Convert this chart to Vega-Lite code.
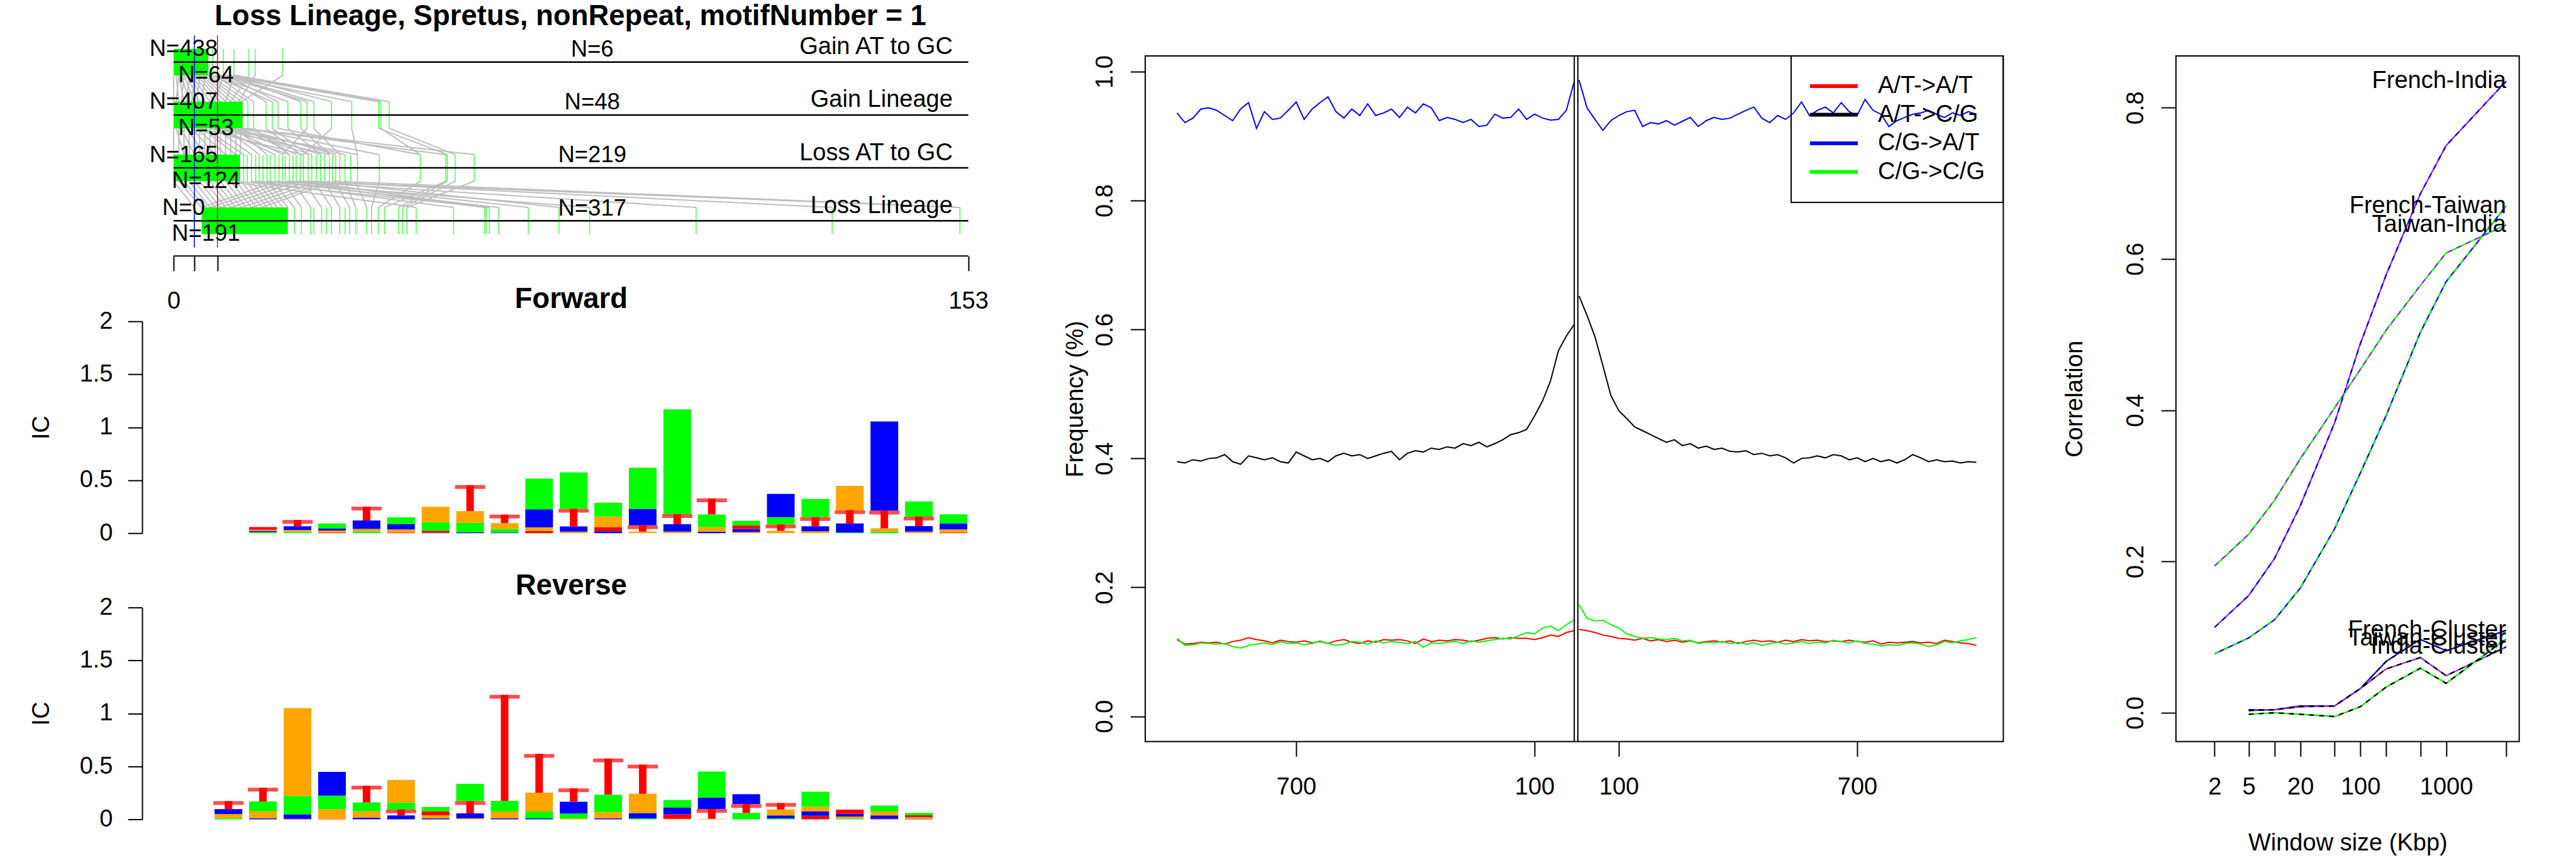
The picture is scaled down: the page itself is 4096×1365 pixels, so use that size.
{
"$schema": "https://vega.github.io/schema/vega-lite/v6.json",
"background": "white",
"padding": {"left": 47, "top": 3, "right": 5, "bottom": 2},
"config": {
  "font": "Liberation Sans",
  "view": {"stroke": null},
  "scale": {"continuousPadding": 0},
  "axis": {"grid": false, "labelFont": "Liberation Sans", "labelFontSize": 38, "labelColor": "black", "titleFont": "Liberation Sans", "titleFontSize": 38, "titleFontWeight": "normal", "titleColor": "black", "tickColor": "black", "tickWidth": 2, "domainColor": "black", "domainWidth": 2},
  "legend": {"strokeWidth": 2},
  "text": {"font": "Liberation Sans", "fontSize": 37, "color": "black"}
},
"datasets": {
  "lin": [
    {"lvl": 4, "cat": "Gain AT to GC", "top": "N=438", "bot": "N=64", "mid": "N=6"},
    {"lvl": 3, "cat": "Gain Lineage", "top": "N=407", "bot": "N=53", "mid": "N=48"},
    {"lvl": 2, "cat": "Loss AT to GC", "top": "N=165", "bot": "N=124", "mid": "N=219"},
    {"lvl": 1, "cat": "Loss Lineage", "top": "N=0", "bot": "N=191", "mid": "N=317"}
  ],
  "blocks": [{"l": 4, "a": 0, "b": 6.7}, {"l": 3, "a": 0, "b": 13.3}, {"l": 2, "a": 0, "b": 12.8}, {"l": 1, "a": 5.4, "b": 22.0}],
  "ticks": [
    {"l":4,"x":7.5},{"l":4,"x":9.6},{"l":4,"x":11.6},{"l":4,"x":14.5},{"l":4,"x":15.7},{"l":4,"x":21.0},
    {"l":3,"x":14.3},{"l":3,"x":15.4},{"l":3,"x":17.8},{"l":3,"x":19.0},{"l":3,"x":20.1},{"l":3,"x":22.0},{"l":3,"x":24.5},{"l":3,"x":25.7},{"l":3,"x":27.0},{"l":3,"x":30.4},{"l":3,"x":34.3},{"l":3,"x":39.5},{"l":3,"x":39.9},{"l":3,"x":41.5},
    {"l":2,"x":13.5},{"l":2,"x":14.2},{"l":2,"x":15.0},{"l":2,"x":15.8},{"l":2,"x":16.5},{"l":2,"x":17.2},{"l":2,"x":18.0},{"l":2,"x":18.6},{"l":2,"x":19.5},{"l":2,"x":20.3},{"l":2,"x":21.0},{"l":2,"x":21.5},{"l":2,"x":22.3},{"l":2,"x":23.0},{"l":2,"x":23.6},{"l":2,"x":24.4},{"l":2,"x":25.0},{"l":2,"x":25.9},{"l":2,"x":26.6},{"l":2,"x":27.5},{"l":2,"x":28.3},{"l":2,"x":29.1},{"l":2,"x":30.0},{"l":2,"x":30.6},{"l":2,"x":31.2},{"l":2,"x":32.0},{"l":2,"x":33.0},{"l":2,"x":34.1},{"l":2,"x":35.4},{"l":2,"x":39.6},{"l":2,"x":47.5},{"l":2,"x":52.4},{"l":2,"x":52.7},{"l":2,"x":54.2},{"l":2,"x":57.9},
    {"l":1,"x":4.0},{"l":1,"x":23.3},{"l":1,"x":24.6},{"l":1,"x":26.4},{"l":1,"x":27.0},{"l":1,"x":28.5},{"l":1,"x":29.4},{"l":1,"x":30.4},{"l":1,"x":32.0},{"l":1,"x":33.0},{"l":1,"x":33.9},{"l":1,"x":35.1},{"l":1,"x":37.2},{"l":1,"x":38.1},{"l":1,"x":39.4},{"l":1,"x":40.6},{"l":1,"x":43.3},{"l":1,"x":44.1},{"l":1,"x":44.9},{"l":1,"x":46.7},{"l":1,"x":53.9},{"l":1,"x":59.9},{"l":1,"x":60.2},{"l":1,"x":60.8},{"l":1,"x":62.6},{"l":1,"x":68.3},{"l":1,"x":74.2},{"l":1,"x":80.1},{"l":1,"x":100.6},{"l":1,"x":126.8},{"l":1,"x":151.4}
  ],
  "links": [
    {"l":4,"a":0,"b":0},{"l":4,"a":0.5,"b":1},{"l":4,"a":1,"b":2},{"l":4,"a":1.5,"b":3},{"l":4,"a":2,"b":4},{"l":4,"a":2.5,"b":5},{"l":4,"a":3,"b":6},{"l":4,"a":3.5,"b":7},{"l":4,"a":4,"b":8},{"l":4,"a":4.5,"b":9},{"l":4,"a":5,"b":10},{"l":4,"a":5.5,"b":11},{"l":4,"a":6,"b":12},{"l":4,"a":6.5,"b":13},{"l":4,"a":1,"b":0.5},{"l":4,"a":2,"b":1.5},{"l":4,"a":3,"b":2.5},{"l":4,"a":4,"b":3.5},{"l":4,"a":5,"b":4.5},{"l":4,"a":6,"b":5.5},
    {"l":4,"a":7,"b":14.3},{"l":4,"a":8,"b":15.4},{"l":4,"a":9,"b":17.8},{"l":4,"a":7.5,"b":19.0},{"l":4,"a":10,"b":20.1},{"l":4,"a":8,"b":22.0},{"l":4,"a":11,"b":24.5},{"l":4,"a":9,"b":25.7},{"l":4,"a":10,"b":27.0},{"l":4,"a":11,"b":30.4},{"l":4,"a":9,"b":34.3},{"l":4,"a":10,"b":39.5},{"l":4,"a":11.5,"b":39.9},{"l":4,"a":12,"b":41.5},{"l":4,"a":9.6,"b":8},{"l":4,"a":11.6,"b":10},{"l":4,"a":14.5,"b":11},{"l":4,"a":15.7,"b":12.5},{"l":4,"a":21.0,"b":13},
    {"l":3,"a":0,"b":0},{"l":3,"a":1,"b":1},{"l":3,"a":2,"b":2},{"l":3,"a":3,"b":3},{"l":3,"a":4,"b":4},{"l":3,"a":5,"b":5},{"l":3,"a":6,"b":6},{"l":3,"a":7,"b":7},{"l":3,"a":8,"b":8},{"l":3,"a":9,"b":9},{"l":3,"a":10,"b":10},{"l":3,"a":11,"b":11},{"l":3,"a":12,"b":12},{"l":3,"a":13,"b":12.8},{"l":3,"a":0.5,"b":2},{"l":3,"a":1.5,"b":4},{"l":3,"a":2.5,"b":6},{"l":3,"a":3.5,"b":8},{"l":3,"a":4.5,"b":10},{"l":3,"a":5.5,"b":12},
    {"l":3,"a":6,"b":13.5},{"l":3,"a":8,"b":15.0},{"l":3,"a":10,"b":16.5},{"l":3,"a":12,"b":18.0},{"l":3,"a":9,"b":19.5},{"l":3,"a":11,"b":21.0},{"l":3,"a":7,"b":22.3},{"l":3,"a":13,"b":23.6},{"l":3,"a":5,"b":25.0},{"l":3,"a":10,"b":26.6},{"l":3,"a":12,"b":28.3},{"l":3,"a":8,"b":30.0},{"l":3,"a":13.3,"b":31.2},{"l":3,"a":11,"b":33.0},{"l":3,"a":9,"b":35.4},{"l":3,"a":14.3,"b":39.6},{"l":3,"a":20.1,"b":47.5},{"l":3,"a":13.4,"b":52.4},{"l":3,"a":39.5,"b":52.7},{"l":3,"a":41.5,"b":54.2},{"l":3,"a":13.4,"b":57.9},{"l":3,"a":39.9,"b":47.5},{"l":3,"a":34.3,"b":35.4},{"l":3,"a":27.0,"b":32.0},{"l":3,"a":24.5,"b":30.0},{"l":3,"a":22.0,"b":28.3},{"l":3,"a":19.0,"b":25.9},{"l":3,"a":17.8,"b":24.4},{"l":3,"a":15.4,"b":22.3},{"l":3,"a":25.7,"b":21.0},{"l":3,"a":30.4,"b":25.0},
    {"l":2,"a":0,"b":4.0},{"l":2,"a":1,"b":5.4},{"l":2,"a":2,"b":6},{"l":2,"a":3,"b":7},{"l":2,"a":4,"b":8},{"l":2,"a":5,"b":9},{"l":2,"a":6,"b":10},{"l":2,"a":7,"b":11},{"l":2,"a":8,"b":12},{"l":2,"a":9,"b":13},{"l":2,"a":10,"b":14},{"l":2,"a":11,"b":15},{"l":2,"a":12,"b":16},{"l":2,"a":13,"b":17},{"l":2,"a":14,"b":18},{"l":2,"a":15,"b":19},{"l":2,"a":16,"b":20},{"l":2,"a":17,"b":21},{"l":2,"a":18,"b":22},{"l":2,"a":20,"b":5.4},{"l":2,"a":22,"b":7},{"l":2,"a":24,"b":9},{"l":2,"a":26,"b":11},{"l":2,"a":28,"b":13},{"l":2,"a":30,"b":15},{"l":2,"a":31,"b":17},
    {"l":2,"a":19,"b":23.3},{"l":2,"a":21,"b":24.6},{"l":2,"a":23,"b":26.4},{"l":2,"a":25,"b":28.5},{"l":2,"a":27,"b":30.4},{"l":2,"a":29,"b":32.0},{"l":2,"a":31,"b":33.9},{"l":2,"a":33,"b":35.1},{"l":2,"a":35,"b":37.2},{"l":2,"a":39.6,"b":38.1},{"l":2,"a":47.5,"b":39.4},{"l":2,"a":52.4,"b":40.6},{"l":2,"a":52.7,"b":43.3},{"l":2,"a":54.2,"b":44.1},{"l":2,"a":57.9,"b":44.9},{"l":2,"a":10,"b":46.7},{"l":2,"a":15,"b":53.9},{"l":2,"a":20,"b":59.9},{"l":2,"a":25,"b":60.2},{"l":2,"a":12,"b":60.8},{"l":2,"a":18,"b":62.6},{"l":2,"a":22,"b":68.3},{"l":2,"a":28,"b":74.2},{"l":2,"a":16,"b":80.1},{"l":2,"a":22,"b":100.6},{"l":2,"a":26,"b":126.8},{"l":2,"a":31,"b":151.4},{"l":2,"a":24,"b":151.4}
  ],
  "vlines": [{"x": 4.0, "m": "s"}, {"x": 8.44, "m": "e"}],
  "fwd": [
    {"col":1,"n":"A","h":0.010},{"col":1,"n":"G","h":0.012},{"col":1,"n":"C","h":0.011},{"col":1,"n":"T","h":0.025},
    {"col":2,"n":"A","h":0.010},{"col":2,"n":"G","h":0.020},{"col":2,"n":"C","h":0.035},{"col":2,"n":"T","h":0.060},
    {"col":3,"n":"T","h":0.005},{"col":3,"n":"G","h":0.020},{"col":3,"n":"C","h":0.021},{"col":3,"n":"A","h":0.045},
    {"col":4,"n":"A","h":0.015},{"col":4,"n":"G","h":0.025},{"col":4,"n":"C","h":0.080},{"col":4,"n":"T","h":0.130},
    {"col":5,"n":"T","h":0.005},{"col":5,"n":"G","h":0.030},{"col":5,"n":"C","h":0.050},{"col":5,"n":"A","h":0.065},
    {"col":6,"n":"C","h":0.004},{"col":6,"n":"T","h":0.020},{"col":6,"n":"A","h":0.080},{"col":6,"n":"G","h":0.145},
    {"col":7,"n":"C","h":0.008},{"col":7,"n":"A","h":0.090},{"col":7,"n":"G","h":0.110},{"col":7,"n":"T","h":0.245},
    {"col":8,"n":"C","h":0.005},{"col":8,"n":"A","h":0.035},{"col":8,"n":"G","h":0.055},{"col":8,"n":"T","h":0.080},
    {"col":9,"n":"T","h":0.020},{"col":9,"n":"G","h":0.035},{"col":9,"n":"C","h":0.170},{"col":9,"n":"A","h":0.290},
    {"col":10,"n":"G","h":0.014},{"col":10,"n":"C","h":0.050},{"col":10,"n":"T","h":0.165},{"col":10,"n":"A","h":0.345},
    {"col":11,"n":"C","h":0.017},{"col":11,"n":"T","h":0.040},{"col":11,"n":"G","h":0.100},{"col":11,"n":"A","h":0.130},
    {"col":12,"n":"G","h":0.014},{"col":12,"n":"T","h":0.060},{"col":12,"n":"C","h":0.155},{"col":12,"n":"A","h":0.390},
    {"col":13,"n":"G","h":0.014},{"col":13,"n":"C","h":0.070},{"col":13,"n":"T","h":0.095},{"col":13,"n":"A","h":0.990},
    {"col":14,"n":"C","h":0.014},{"col":14,"n":"G","h":0.043},{"col":14,"n":"A","h":0.120},{"col":14,"n":"T","h":0.150},
    {"col":15,"n":"G","h":0.010},{"col":15,"n":"C","h":0.030},{"col":15,"n":"T","h":0.034},{"col":15,"n":"A","h":0.043},
    {"col":16,"n":"G","h":0.022},{"col":16,"n":"T","h":0.060},{"col":16,"n":"A","h":0.069},{"col":16,"n":"C","h":0.220},
    {"col":17,"n":"G","h":0.017},{"col":17,"n":"C","h":0.048},{"col":17,"n":"T","h":0.086},{"col":17,"n":"A","h":0.172},
    {"col":18,"n":"A","h":0.005},{"col":18,"n":"C","h":0.086},{"col":18,"n":"T","h":0.126},{"col":18,"n":"G","h":0.230},
    {"col":19,"n":"A","h":0.014},{"col":19,"n":"G","h":0.031},{"col":19,"n":"T","h":0.167},{"col":19,"n":"C","h":0.843},
    {"col":20,"n":"G","h":0.014},{"col":20,"n":"C","h":0.052},{"col":20,"n":"T","h":0.090},{"col":20,"n":"A","h":0.143},
    {"col":21,"n":"T","h":0.005},{"col":21,"n":"G","h":0.030},{"col":21,"n":"C","h":0.057},{"col":21,"n":"A","h":0.086}
  ],
  "rev": [
    {"col":1,"n":"A","h":0.010},{"col":1,"n":"G","h":0.040},{"col":1,"n":"C","h":0.046},{"col":1,"n":"T","h":0.076},
    {"col":2,"n":"C","h":0.010},{"col":2,"n":"G","h":0.065},{"col":2,"n":"A","h":0.093},{"col":2,"n":"T","h":0.130},
    {"col":3,"n":"T","h":0.004},{"col":3,"n":"C","h":0.043},{"col":3,"n":"A","h":0.173},{"col":3,"n":"G","h":0.830},
    {"col":4,"n":"T","h":0.004},{"col":4,"n":"G","h":0.090},{"col":4,"n":"A","h":0.130},{"col":4,"n":"C","h":0.223},
    {"col":5,"n":"C","h":0.015},{"col":5,"n":"G","h":0.060},{"col":5,"n":"A","h":0.084},{"col":5,"n":"T","h":0.158},
    {"col":6,"n":"C","h":0.037},{"col":6,"n":"T","h":0.056},{"col":6,"n":"A","h":0.065},{"col":6,"n":"G","h":0.214},
    {"col":7,"n":"C","h":0.010},{"col":7,"n":"G","h":0.028},{"col":7,"n":"T","h":0.037},{"col":7,"n":"A","h":0.041},
    {"col":8,"n":"G","h":0.010},{"col":8,"n":"C","h":0.046},{"col":8,"n":"T","h":0.115},{"col":8,"n":"A","h":0.164},
    {"col":9,"n":"C","h":0.009},{"col":9,"n":"G","h":0.065},{"col":9,"n":"A","h":0.100},{"col":9,"n":"T","h":1.000},
    {"col":10,"n":"C","h":0.009},{"col":10,"n":"A","h":0.065},{"col":10,"n":"G","h":0.177},{"col":10,"n":"T","h":0.366},
    {"col":11,"n":"G","h":0.009},{"col":11,"n":"A","h":0.046},{"col":11,"n":"C","h":0.110},{"col":11,"n":"T","h":0.127},
    {"col":12,"n":"C","h":0.010},{"col":12,"n":"G","h":0.056},{"col":12,"n":"A","h":0.167},{"col":12,"n":"T","h":0.340},
    {"col":13,"n":"A","h":0.009},{"col":13,"n":"C","h":0.050},{"col":13,"n":"G","h":0.182},{"col":13,"n":"T","h":0.275},
    {"col":14,"n":"G","h":0.004},{"col":14,"n":"T","h":0.043},{"col":14,"n":"C","h":0.065},{"col":14,"n":"A","h":0.070},
    {"col":15,"n":"G","h":0.004},{"col":15,"n":"T","h":0.093},{"col":15,"n":"C","h":0.108},{"col":15,"n":"A","h":0.245},
    {"col":16,"n":"A","h":0.060},{"col":16,"n":"T","h":0.084},{"col":16,"n":"C","h":0.093},
    {"col":17,"n":"A","h":0.009},{"col":17,"n":"C","h":0.028},{"col":17,"n":"G","h":0.056},{"col":17,"n":"T","h":0.060},
    {"col":18,"n":"T","h":0.033},{"col":18,"n":"C","h":0.041},{"col":18,"n":"G","h":0.046},{"col":18,"n":"A","h":0.140},
    {"col":19,"n":"A","h":0.007},{"col":19,"n":"G","h":0.019},{"col":19,"n":"C","h":0.026},{"col":19,"n":"T","h":0.040},
    {"col":20,"n":"T","h":0.004},{"col":20,"n":"C","h":0.033},{"col":20,"n":"G","h":0.037},{"col":20,"n":"A","h":0.056},
    {"col":21,"n":"C","h":0.004},{"col":21,"n":"G","h":0.015},{"col":21,"n":"T","h":0.019},{"col":21,"n":"A","h":0.022}
  ],
  "mid": [
    {"s":"L","x":-1000,"at":0.119,"ac":0.395,"ca":0.936,"cc":0.121},
    {"s":"L","x":-980,"at":0.112,"ac":0.393,"ca":0.921,"cc":0.110},
    {"s":"L","x":-960,"at":0.113,"ac":0.398,"ca":0.928,"cc":0.111},
    {"s":"L","x":-940,"at":0.115,"ac":0.396,"ca":0.942,"cc":0.114},
    {"s":"L","x":-920,"at":0.114,"ac":0.400,"ca":0.944,"cc":0.113},
    {"s":"L","x":-900,"at":0.115,"ac":0.401,"ca":0.940,"cc":0.112},
    {"s":"L","x":-880,"at":0.112,"ac":0.406,"ca":0.932,"cc":0.113},
    {"s":"L","x":-860,"at":0.116,"ac":0.395,"ca":0.924,"cc":0.108},
    {"s":"L","x":-840,"at":0.118,"ac":0.391,"ca":0.942,"cc":0.106},
    {"s":"L","x":-820,"at":0.122,"ac":0.404,"ca":0.952,"cc":0.110},
    {"s":"L","x":-800,"at":0.119,"ac":0.401,"ca":0.912,"cc":0.112},
    {"s":"L","x":-780,"at":0.117,"ac":0.398,"ca":0.938,"cc":0.114},
    {"s":"L","x":-760,"at":0.114,"ac":0.401,"ca":0.926,"cc":0.111},
    {"s":"L","x":-740,"at":0.118,"ac":0.395,"ca":0.928,"cc":0.116},
    {"s":"L","x":-720,"at":0.116,"ac":0.393,"ca":0.940,"cc":0.113},
    {"s":"L","x":-700,"at":0.115,"ac":0.410,"ca":0.953,"cc":0.114},
    {"s":"L","x":-680,"at":0.117,"ac":0.404,"ca":0.926,"cc":0.111},
    {"s":"L","x":-660,"at":0.114,"ac":0.398,"ca":0.942,"cc":0.113},
    {"s":"L","x":-640,"at":0.116,"ac":0.400,"ca":0.952,"cc":0.117},
    {"s":"L","x":-620,"at":0.113,"ac":0.395,"ca":0.961,"cc":0.113},
    {"s":"L","x":-600,"at":0.117,"ac":0.404,"ca":0.938,"cc":0.110},
    {"s":"L","x":-580,"at":0.119,"ac":0.408,"ca":0.928,"cc":0.112},
    {"s":"L","x":-560,"at":0.115,"ac":0.404,"ca":0.942,"cc":0.116},
    {"s":"L","x":-540,"at":0.113,"ac":0.406,"ca":0.932,"cc":0.115},
    {"s":"L","x":-520,"at":0.117,"ac":0.400,"ca":0.950,"cc":0.112},
    {"s":"L","x":-500,"at":0.115,"ac":0.404,"ca":0.932,"cc":0.117},
    {"s":"L","x":-480,"at":0.119,"ac":0.408,"ca":0.936,"cc":0.114},
    {"s":"L","x":-460,"at":0.118,"ac":0.411,"ca":0.942,"cc":0.116},
    {"s":"L","x":-440,"at":0.119,"ac":0.398,"ca":0.929,"cc":0.115},
    {"s":"L","x":-420,"at":0.117,"ac":0.408,"ca":0.945,"cc":0.113},
    {"s":"L","x":-400,"at":0.113,"ac":0.412,"ca":0.936,"cc":0.116},
    {"s":"L","x":-380,"at":0.120,"ac":0.410,"ca":0.950,"cc":0.107},
    {"s":"L","x":-360,"at":0.116,"ac":0.416,"ca":0.944,"cc":0.114},
    {"s":"L","x":-340,"at":0.118,"ac":0.414,"ca":0.924,"cc":0.113},
    {"s":"L","x":-320,"at":0.117,"ac":0.418,"ca":0.929,"cc":0.115},
    {"s":"L","x":-300,"at":0.119,"ac":0.416,"ca":0.926,"cc":0.116},
    {"s":"L","x":-280,"at":0.118,"ac":0.423,"ca":0.921,"cc":0.113},
    {"s":"L","x":-260,"at":0.116,"ac":0.420,"ca":0.926,"cc":0.117},
    {"s":"L","x":-240,"at":0.118,"ac":0.425,"ca":0.915,"cc":0.115},
    {"s":"L","x":-220,"at":0.121,"ac":0.418,"ca":0.917,"cc":0.117},
    {"s":"L","x":-200,"at":0.122,"ac":0.423,"ca":0.934,"cc":0.119},
    {"s":"L","x":-180,"at":0.120,"ac":0.429,"ca":0.928,"cc":0.121},
    {"s":"L","x":-160,"at":0.122,"ac":0.437,"ca":0.929,"cc":0.120},
    {"s":"L","x":-140,"at":0.121,"ac":0.440,"ca":0.942,"cc":0.125},
    {"s":"L","x":-120,"at":0.121,"ac":0.445,"ca":0.926,"cc":0.130},
    {"s":"L","x":-100,"at":0.119,"ac":0.466,"ca":0.934,"cc":0.128},
    {"s":"L","x":-80,"at":0.122,"ac":0.489,"ca":0.928,"cc":0.137},
    {"s":"L","x":-60,"at":0.126,"ac":0.520,"ca":0.925,"cc":0.140},
    {"s":"L","x":-40,"at":0.124,"ac":0.567,"ca":0.926,"cc":0.133},
    {"s":"L","x":-20,"at":0.130,"ac":0.590,"ca":0.940,"cc":0.142},
    {"s":"L","x":0,"at":0.133,"ac":0.608,"ca":0.985,"cc":0.150},
    {"s":"R","x":12,"at":0.135,"ac":0.652,"ca":0.987,"cc":0.173},
    {"s":"R","x":32,"at":0.133,"ac":0.622,"ca":0.944,"cc":0.152},
    {"s":"R","x":52,"at":0.130,"ac":0.589,"ca":0.926,"cc":0.148},
    {"s":"R","x":72,"at":0.126,"ac":0.544,"ca":0.909,"cc":0.149},
    {"s":"R","x":92,"at":0.124,"ac":0.498,"ca":0.924,"cc":0.142},
    {"s":"R","x":112,"at":0.121,"ac":0.474,"ca":0.932,"cc":0.137},
    {"s":"R","x":132,"at":0.120,"ac":0.462,"ca":0.938,"cc":0.128},
    {"s":"R","x":152,"at":0.118,"ac":0.449,"ca":0.940,"cc":0.124},
    {"s":"R","x":172,"at":0.121,"ac":0.443,"ca":0.915,"cc":0.121},
    {"s":"R","x":192,"at":0.117,"ac":0.437,"ca":0.921,"cc":0.122},
    {"s":"R","x":212,"at":0.119,"ac":0.431,"ca":0.919,"cc":0.120},
    {"s":"R","x":232,"at":0.116,"ac":0.425,"ca":0.924,"cc":0.119},
    {"s":"R","x":252,"at":0.118,"ac":0.429,"ca":0.917,"cc":0.121},
    {"s":"R","x":272,"at":0.115,"ac":0.420,"ca":0.923,"cc":0.117},
    {"s":"R","x":292,"at":0.117,"ac":0.423,"ca":0.929,"cc":0.118},
    {"s":"R","x":312,"at":0.114,"ac":0.416,"ca":0.915,"cc":0.113},
    {"s":"R","x":332,"at":0.116,"ac":0.419,"ca":0.924,"cc":0.115},
    {"s":"R","x":352,"at":0.117,"ac":0.414,"ca":0.929,"cc":0.114},
    {"s":"R","x":372,"at":0.115,"ac":0.416,"ca":0.926,"cc":0.116},
    {"s":"R","x":392,"at":0.117,"ac":0.411,"ca":0.928,"cc":0.113},
    {"s":"R","x":412,"at":0.113,"ac":0.410,"ca":0.934,"cc":0.115},
    {"s":"R","x":432,"at":0.116,"ac":0.412,"ca":0.940,"cc":0.112},
    {"s":"R","x":452,"at":0.118,"ac":0.406,"ca":0.945,"cc":0.114},
    {"s":"R","x":472,"at":0.116,"ac":0.408,"ca":0.928,"cc":0.110},
    {"s":"R","x":492,"at":0.117,"ac":0.404,"ca":0.921,"cc":0.113},
    {"s":"R","x":512,"at":0.115,"ac":0.406,"ca":0.932,"cc":0.115},
    {"s":"R","x":532,"at":0.118,"ac":0.401,"ca":0.926,"cc":0.112},
    {"s":"R","x":552,"at":0.116,"ac":0.393,"ca":0.936,"cc":0.114},
    {"s":"R","x":572,"at":0.119,"ac":0.400,"ca":0.953,"cc":0.116},
    {"s":"R","x":592,"at":0.117,"ac":0.401,"ca":0.932,"cc":0.113},
    {"s":"R","x":612,"at":0.118,"ac":0.404,"ca":0.940,"cc":0.115},
    {"s":"R","x":632,"at":0.116,"ac":0.401,"ca":0.945,"cc":0.114},
    {"s":"R","x":652,"at":0.117,"ac":0.406,"ca":0.936,"cc":0.118},
    {"s":"R","x":672,"at":0.116,"ac":0.404,"ca":0.952,"cc":0.116},
    {"s":"R","x":692,"at":0.118,"ac":0.398,"ca":0.938,"cc":0.114},
    {"s":"R","x":712,"at":0.116,"ac":0.401,"ca":0.932,"cc":0.117},
    {"s":"R","x":732,"at":0.115,"ac":0.395,"ca":0.957,"cc":0.113},
    {"s":"R","x":752,"at":0.117,"ac":0.400,"ca":0.940,"cc":0.112},
    {"s":"R","x":772,"at":0.112,"ac":0.395,"ca":0.934,"cc":0.109},
    {"s":"R","x":792,"at":0.115,"ac":0.398,"ca":0.915,"cc":0.111},
    {"s":"R","x":812,"at":0.114,"ac":0.393,"ca":0.924,"cc":0.110},
    {"s":"R","x":832,"at":0.115,"ac":0.398,"ca":0.929,"cc":0.113},
    {"s":"R","x":852,"at":0.116,"ac":0.406,"ca":0.934,"cc":0.114},
    {"s":"R","x":872,"at":0.114,"ac":0.401,"ca":0.936,"cc":0.112},
    {"s":"R","x":892,"at":0.115,"ac":0.395,"ca":0.940,"cc":0.108},
    {"s":"R","x":912,"at":0.113,"ac":0.398,"ca":0.934,"cc":0.111},
    {"s":"R","x":932,"at":0.118,"ac":0.395,"ca":0.929,"cc":0.116},
    {"s":"R","x":952,"at":0.116,"ac":0.396,"ca":0.936,"cc":0.114},
    {"s":"R","x":972,"at":0.114,"ac":0.393,"ca":0.932,"cc":0.117},
    {"s":"R","x":992,"at":0.113,"ac":0.395,"ca":0.938,"cc":0.119},
    {"s":"R","x":1012,"at":0.110,"ac":0.394,"ca":0.934,"cc":0.122}
  ],
  "clines": [{"v": 0}, {"v": 9}],
  "corr": [
    {"p":"French-India","w":2,"r":0.113},{"p":"French-India","w":5,"r":0.155},{"p":"French-India","w":10,"r":0.204},{"p":"French-India","w":20,"r":0.274},{"p":"French-India","w":50,"r":0.383},{"p":"French-India","w":100,"r":0.488},{"p":"French-India","w":200,"r":0.579},{"p":"French-India","w":500,"r":0.686},{"p":"French-India","w":1000,"r":0.750},{"p":"French-India","w":5000,"r":0.835},
    {"p":"Taiwan-India","w":2,"r":0.194},{"p":"Taiwan-India","w":5,"r":0.236},{"p":"Taiwan-India","w":10,"r":0.281},{"p":"Taiwan-India","w":20,"r":0.336},{"p":"Taiwan-India","w":50,"r":0.403},{"p":"Taiwan-India","w":100,"r":0.454},{"p":"Taiwan-India","w":200,"r":0.506},{"p":"Taiwan-India","w":500,"r":0.565},{"p":"Taiwan-India","w":1000,"r":0.608},{"p":"Taiwan-India","w":5000,"r":0.645},
    {"p":"French-Taiwan","w":2,"r":0.078},{"p":"French-Taiwan","w":5,"r":0.099},{"p":"French-Taiwan","w":10,"r":0.123},{"p":"French-Taiwan","w":20,"r":0.165},{"p":"French-Taiwan","w":50,"r":0.243},{"p":"French-Taiwan","w":100,"r":0.317},{"p":"French-Taiwan","w":200,"r":0.393},{"p":"French-Taiwan","w":500,"r":0.503},{"p":"French-Taiwan","w":1000,"r":0.570},{"p":"French-Taiwan","w":5000,"r":0.670},
    {"p":"French-Cluster","w":5,"r":0.003},{"p":"French-Cluster","w":10,"r":0.004},{"p":"French-Cluster","w":20,"r":0.009},{"p":"French-Cluster","w":50,"r":0.009},{"p":"French-Cluster","w":100,"r":0.032},{"p":"French-Cluster","w":200,"r":0.068},{"p":"French-Cluster","w":500,"r":0.097},{"p":"French-Cluster","w":1000,"r":0.082},{"p":"French-Cluster","w":5000,"r":0.109},
    {"p":"India-Cluster","w":5,"r":0.004},{"p":"India-Cluster","w":10,"r":0.004},{"p":"India-Cluster","w":20,"r":0.008},{"p":"India-Cluster","w":50,"r":0.009},{"p":"India-Cluster","w":100,"r":0.032},{"p":"India-Cluster","w":200,"r":0.058},{"p":"India-Cluster","w":500,"r":0.073},{"p":"India-Cluster","w":1000,"r":0.049},{"p":"India-Cluster","w":5000,"r":0.087},
    {"p":"Taiwan-Cluster","w":5,"r":-0.002},{"p":"Taiwan-Cluster","w":10,"r":0.000},{"p":"Taiwan-Cluster","w":20,"r":-0.002},{"p":"Taiwan-Cluster","w":50,"r":-0.005},{"p":"Taiwan-Cluster","w":100,"r":0.008},{"p":"Taiwan-Cluster","w":200,"r":0.034},{"p":"Taiwan-Cluster","w":500,"r":0.059},{"p":"Taiwan-Cluster","w":1000,"r":0.039},{"p":"Taiwan-Cluster","w":5000,"r":0.098}
  ]
},
"bounds": "full",
"spacing": 118,
"resolve": {"scale": {"color": "independent", "x": "independent", "y": "independent"}},
"hconcat": [
  {
    "bounds": "flush",
    "spacing": 118.2,
    "resolve": {"scale": {"color": "independent", "x": "independent", "y": "independent"}},
    "vconcat": [
      {
        "width": 1317.4, "height": 304,
        "layer": [
          {"data": {"name": "links"}, "mark": {"type": "rule", "color": "#BEBEBE", "strokeWidth": 2, "yOffset": 21.2, "y2Offset": 62.94},
           "encoding": {
             "x": {"field": "a", "type": "quantitative", "scale": {"domain": [-6.06, 153.46], "nice": false, "zero": false, "padding": 0},
                   "axis": {"values": [0, 4, 8.44, 153], "labelExpr": "datum.value == 0 || datum.value == 153 ? format(datum.value, 'd') : ''", "domain": false, "tickSize": 23.5, "offset": 14.4, "labelPadding": 30, "title": null, "labelFlush": false, "labelOverlap": false}},
             "x2": {"field": "b"},
             "y": {"field": "l", "type": "quantitative", "scale": {"domain": [0.5036, 4.117], "nice": false, "zero": false, "padding": 0}, "axis": null},
             "y2": {"field": "l"}}},
          {"data": {"name": "blocks"}, "mark": {"type": "bar", "orient": "horizontal", "size": 42.4, "color": "#00FF00"},
           "encoding": {"x": {"field": "a", "type": "quantitative"}, "x2": {"field": "b"}, "y": {"field": "l", "type": "quantitative", "axis": null}}},
          {"data": {"name": "ticks"}, "mark": {"type": "tick", "orient": "vertical", "size": 42.4, "thickness": 1.5, "color": "#00FF00"},
           "encoding": {"x": {"field": "x", "type": "quantitative"}, "y": {"field": "l", "type": "quantitative", "axis": null}}},
          {"data": {"name": "lin"}, "mark": {"type": "rule", "color": "black", "strokeWidth": 2.5},
           "encoding": {"x": {"datum": 0, "type": "quantitative"}, "x2": {"datum": 153}, "y": {"field": "lvl", "type": "quantitative", "axis": null}}},
          {"data": {"name": "vlines"}, "mark": {"type": "rule", "strokeWidth": 1.5},
           "encoding": {"x": {"field": "x", "type": "quantitative"}, "y": {"datum": 4.505, "type": "quantitative", "axis": null}, "y2": {"datum": 0.495},
                        "color": {"field": "m", "type": "nominal", "scale": {"domain": ["s", "e"], "range": ["#0000FF", "#FF0000"]}, "legend": null}}},
          {"data": {"values": [{}]}, "mark": {"type": "rule", "color": "black", "strokeWidth": 2},
           "encoding": {"x": {"datum": 0, "type": "quantitative"}, "x2": {"datum": 153}, "y": {"datum": 0.333, "type": "quantitative", "axis": null}}},
          {"data": {"values": [{}]}, "mark": {"type": "text", "fontSize": 45.5, "fontWeight": "bold", "align": "center", "baseline": "alphabetic"},
           "encoding": {"x": {"datum": 76.4, "type": "quantitative"}, "y": {"datum": 4.703, "type": "quantitative", "axis": null}, "text": {"value": "Loss Lineage, Spretus, nonRepeat, motifNumber = 1"}}},
          {"data": {"name": "lin"}, "mark": {"type": "text", "fontSize": 38, "align": "right", "baseline": "middle", "dy": -23.5},
           "encoding": {"x": {"datum": 150, "type": "quantitative"}, "y": {"field": "lvl", "type": "quantitative", "axis": null}, "text": {"field": "cat"}}},
          {"data": {"name": "lin"}, "mark": {"type": "text", "fontSize": 36.5, "align": "center", "baseline": "middle", "dy": -19.7},
           "encoding": {"x": {"datum": 80.6, "type": "quantitative"}, "y": {"field": "lvl", "type": "quantitative", "axis": null}, "text": {"field": "mid"}}},
          {"data": {"name": "lin"}, "mark": {"type": "text", "fontSize": 36.5, "align": "center", "baseline": "middle", "dy": -20.5},
           "encoding": {"x": {"datum": 1.93, "type": "quantitative"}, "y": {"field": "lvl", "type": "quantitative", "axis": null}, "text": {"field": "top"}}},
          {"data": {"name": "lin"}, "mark": {"type": "text", "fontSize": 36.5, "align": "center", "baseline": "middle", "dy": 21},
           "encoding": {"x": {"datum": 6.24, "type": "quantitative"}, "y": {"field": "lvl", "type": "quantitative", "axis": null}, "text": {"field": "bot"}}}
        ]
      },
      {
        "width": 1317.4, "height": 337,
        "layer": [
          {"data": {"name": "fwd"},
           "transform": [{"stack": "h", "groupby": ["col"], "sort": [{"field": "h", "order": "ascending"}], "as": ["y0", "y1"]}, {"filter": "datum.n != 'T' || datum.h <= 0.05"}],
           "mark": {"type": "bar", "size": 44},
           "encoding": {
             "x": {"field": "col", "type": "quantitative", "scale": {"domain": [-2.5, 21.5], "nice": false, "zero": false, "padding": 0}, "axis": null},
             "y": {"field": "y0", "type": "quantitative", "scale": {"domain": [0, 2], "nice": false, "zero": false},
                   "axis": {"values": [0, 0.5, 1, 1.5, 2], "format": "~g", "tickSize": 22.7, "labelPadding": 24.3, "labelAngle": 0, "labelAlign": "right", "labelBaseline": "middle", "title": "IC", "titleX": -160, "titleY": 168.5, "titleAngle": 270, "titleAlign": "center", "titleBaseline": "middle"}},
             "y2": {"field": "y1"},
             "color": {"field": "n", "type": "nominal", "scale": {"domain": ["A", "C", "G", "T"], "range": ["#00FF00", "#0000FF", "#FFA500", "#FF0000"]}, "legend": null}}},
          {"data": {"name": "fwd"},
           "transform": [{"stack": "h", "groupby": ["col"], "sort": [{"field": "h", "order": "ascending"}], "as": ["y0", "y1"]}, {"filter": "datum.n == 'T' && datum.h > 0.05"}],
           "mark": {"type": "bar", "size": 12, "color": "#FF0000"},
           "encoding": {"x": {"field": "col", "type": "quantitative", "axis": null}, "y": {"field": "y0", "type": "quantitative"}, "y2": {"field": "y1"}}},
          {"data": {"name": "fwd"},
           "transform": [{"stack": "h", "groupby": ["col"], "sort": [{"field": "h", "order": "ascending"}], "as": ["y0", "y1"]}, {"filter": "datum.n == 'T' && datum.h > 0.05"}],
           "mark": {"type": "tick", "orient": "horizontal", "size": 48, "thickness": 6, "yOffset": 3, "color": "#FF0000"},
           "encoding": {"x": {"field": "col", "type": "quantitative", "axis": null}, "y": {"field": "y1", "type": "quantitative"}}},
          {"data": {"values": [{}]}, "mark": {"type": "text", "fontSize": 45.5, "fontWeight": "bold", "align": "center", "baseline": "middle", "dy": -34.9},
           "encoding": {"x": {"datum": 9.93, "type": "quantitative", "axis": null}, "y": {"datum": 2, "type": "quantitative"}, "text": {"value": "Forward"}}}
        ]
      },
      {
        "width": 1317.4, "height": 337,
        "layer": [
          {"data": {"name": "rev"},
           "transform": [{"stack": "h", "groupby": ["col"], "sort": [{"field": "h", "order": "ascending"}], "as": ["y0", "y1"]}, {"filter": "datum.n != 'T' || datum.h <= 0.05"}],
           "mark": {"type": "bar", "size": 44},
           "encoding": {
             "x": {"field": "col", "type": "quantitative", "scale": {"domain": [-1.5, 22.5], "nice": false, "zero": false, "padding": 0}, "axis": null},
             "y": {"field": "y0", "type": "quantitative", "scale": {"domain": [0, 2], "nice": false, "zero": false},
                   "axis": {"values": [0, 0.5, 1, 1.5, 2], "format": "~g", "tickSize": 22.7, "labelPadding": 24.3, "labelAngle": 0, "labelAlign": "right", "labelBaseline": "middle", "title": "IC", "titleX": -160, "titleY": 168.5, "titleAngle": 270, "titleAlign": "center", "titleBaseline": "middle"}},
             "y2": {"field": "y1"},
             "color": {"field": "n", "type": "nominal", "scale": {"domain": ["A", "C", "G", "T"], "range": ["#00FF00", "#0000FF", "#FFA500", "#FF0000"]}, "legend": null}}},
          {"data": {"name": "rev"},
           "transform": [{"stack": "h", "groupby": ["col"], "sort": [{"field": "h", "order": "ascending"}], "as": ["y0", "y1"]}, {"filter": "datum.n == 'T' && datum.h > 0.05"}],
           "mark": {"type": "bar", "size": 12, "color": "#FF0000"},
           "encoding": {"x": {"field": "col", "type": "quantitative", "axis": null}, "y": {"field": "y0", "type": "quantitative"}, "y2": {"field": "y1"}}},
          {"data": {"name": "rev"},
           "transform": [{"stack": "h", "groupby": ["col"], "sort": [{"field": "h", "order": "ascending"}], "as": ["y0", "y1"]}, {"filter": "datum.n == 'T' && datum.h > 0.05"}],
           "mark": {"type": "tick", "orient": "horizontal", "size": 48, "thickness": 6, "yOffset": 3, "color": "#FF0000"},
           "encoding": {"x": {"field": "col", "type": "quantitative", "axis": null}, "y": {"field": "y1", "type": "quantitative"}}},
          {"data": {"values": [{}]}, "mark": {"type": "text", "fontSize": 45.5, "fontWeight": "bold", "align": "center", "baseline": "middle", "dy": -34.9},
           "encoding": {"x": {"datum": 10.93, "type": "quantitative", "axis": null}, "y": {"datum": 2, "type": "quantitative"}, "text": {"value": "Reverse"}}}
        ]
      }
    ]
  },
  {
    "bounds": "full",
    "spacing": 92.9,
    "resolve": {"scale": {"color": "independent", "x": "independent", "y": "independent"}},
    "hconcat": [
      {
        "width": 1364.4, "height": 1090.8,
        "view": {"stroke": "black", "strokeWidth": 2},
        "layer": [
          {"data": {"name": "mid"},
           "transform": [{"fold": ["at", "ac", "ca", "cc"], "as": ["t", "v"]}],
           "mark": {"type": "line"},
           "encoding": {
             "x": {"field": "x", "type": "quantitative", "scale": {"domain": [-1080, 1080], "nice": false, "zero": false},
                   "axis": {"values": [-700, -100, 112, 712], "labelExpr": "datum.value < 0 ? format(-datum.value, 'd') : format(datum.value - 12, 'd')", "domain": false, "tickSize": 23.5, "labelPadding": 30, "title": null, "labelFlush": false, "labelOverlap": false}},
             "y": {"field": "v", "type": "quantitative", "scale": {"domain": [-0.0392, 1.0244], "nice": false, "zero": false},
                   "axis": {"values": [0, 0.2, 0.4, 0.6, 0.8, 1], "format": ".1f", "domain": false, "tickSize": 23.5, "labelAngle": -90, "labelAlign": "center", "labelBaseline": "alphabetic", "labelPadding": 29, "title": "Frequency (%)", "titleX": -110.7, "titleY": 545.4, "titleAngle": 270, "titleAlign": "center", "titleBaseline": "middle"}},
             "color": {"field": "t", "type": "nominal", "scale": {"domain": ["at", "ac", "ca", "cc"], "range": ["#FF0000", "#000000", "#0000FF", "#00FF00"]},
                       "legend": {"orient": "top-right", "offset": 0, "padding": 29, "title": null, "strokeColor": "black", "symbolType": "M-4,0L4,0", "symbolSize": 361, "symbolStrokeWidth": 6, "symbolOffset": 20, "labelOffset": 51, "labelFontSize": 38, "labelFont": "Liberation Sans", "labelColor": "black", "labelLimit": 0, "rowPadding": 7.5,
                                  "labelExpr": "datum.label == 'at' ? 'A/T->A/T' : datum.label == 'ac' ? 'A/T->C/G' : datum.label == 'ca' ? 'C/G->A/T' : 'C/G->C/G'"}},
             "detail": {"field": "s"}}},
          {"data": {"name": "clines"}, "mark": {"type": "rule", "color": "black", "strokeWidth": 2},
           "encoding": {"x": {"field": "v", "type": "quantitative"}}}
        ]
      },
      {
        "width": 545.8, "height": 1090.8,
        "view": {"stroke": "black", "strokeWidth": 2},
        "data": {"name": "corr"},
        "resolve": {"scale": {"color": "independent"}},
        "layer": [
          {"mark": {"type": "line", "strokeWidth": 2.3},
           "encoding": {
             "x": {"field": "w", "type": "quantitative", "scale": {"type": "log", "domain": [0.71, 7100], "nice": false},
                   "axis": {"values": [2, 5, 10, 20, 50, 100, 200, 500, 1000, 5000], "labelExpr": "datum.value == 2 || datum.value == 5 || datum.value == 20 || datum.value == 100 || datum.value == 1000 ? format(datum.value, 'd') : ''", "domain": false, "tickSize": 23.5, "labelPadding": 30, "labelFlush": false, "labelOverlap": false, "title": "Window size (Kbp)", "titleX": 272.9, "titleY": 161.5, "titleAlign": "center", "titleBaseline": "middle"}},
             "y": {"field": "r", "type": "quantitative", "scale": {"domain": [-0.0381, 0.8684], "nice": false, "zero": false},
                   "axis": {"values": [0, 0.2, 0.4, 0.6, 0.8], "format": ".1f", "domain": false, "tickSize": 23.5, "labelAngle": -90, "labelAlign": "center", "labelBaseline": "alphabetic", "labelPadding": 29, "title": "Correlation", "titleX": -160, "titleY": 545.4, "titleAngle": 270, "titleAlign": "center", "titleBaseline": "middle"}},
             "color": {"field": "p", "type": "nominal", "scale": {"domain": ["French-India", "Taiwan-India", "French-Taiwan", "French-Cluster", "India-Cluster", "Taiwan-Cluster"], "range": ["#A020F0", "#00FF00", "#0000FF", "#0000FF", "#A020F0", "#00FF00"]}, "legend": null}}},
          {"mark": {"type": "line", "strokeWidth": 2.3, "strokeDash": [8, 8]},
           "encoding": {
             "x": {"field": "w", "type": "quantitative"},
             "y": {"field": "r", "type": "quantitative"},
             "color": {"field": "p", "type": "nominal", "scale": {"domain": ["French-India", "Taiwan-India", "French-Taiwan", "French-Cluster", "India-Cluster", "Taiwan-Cluster"], "range": ["#0000FF", "#A020F0", "#00FF00", "#000000", "#000000", "#000000"]}, "legend": null}}},
          {"transform": [{"filter": "datum.w == 5000"}],
           "mark": {"type": "text", "fontSize": 38, "align": "right", "baseline": "middle"},
           "encoding": {"x": {"field": "w", "type": "quantitative"}, "y": {"field": "r", "type": "quantitative"}, "text": {"field": "p"}}}
        ]
      }
    ]
  }
]
}
